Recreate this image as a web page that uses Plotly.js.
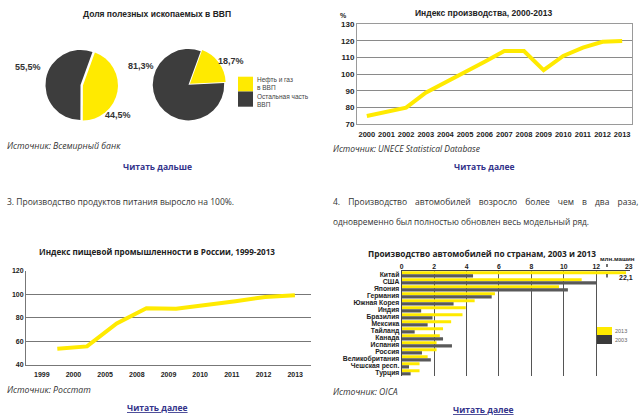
<!DOCTYPE html>
<html><head><meta charset="utf-8">
<script src="https://cdn.plot.ly/plotly-3.0.1.min.js"></script>
<style>html,body{margin:0;padding:0;background:#fff}#chart{width:640px;height:417px}</style>
</head><body><div id="chart"></div>
<script>
// ---------- DATA ----------
const pieLabels = ['Нефть и газ в ВВП', 'Остальная часть ВВП'];
const pie1Values = [44.5, 55.5];
const pie2Values = [18.7, 81.3];

const prodYears = ['2000','2001','2002','2003','2004','2005','2006','2007','2008','2009','2010','2011','2012','2013'];
const prodIndex = [75, 77.5, 80, 89, 95, 101, 107.5, 114, 114, 102.5, 111, 116, 119.5, 120];

const foodLabels = ['1999','2000','2005','2008','2009','2010','2011','2012','2013'];
const foodIndex = [53.5, 55.5, 75, 88, 87.5, 90.5, 94, 97.5, 99];

const countries = ['Китай','США','Япония','Германия','Южная Корея','Индия','Бразилия','Мексика','Тайланд','Канада','Испания','Россия','Великобритания','Чешская респ.','Турция'];
const cars2013 = [22.1, 11.1, 9.7, 5.75, 4.5, 3.95, 3.75, 3.05, 2.55, 2.35, 2.15, 2.15, 1.6, 1.1, 1.1];
const cars2003 = [4.4, 12.1, 10.25, 5.55, 3.2, 1.2, 1.9, 1.6, 0.8, 2.55, 3.1, 1.25, 1.8, 0.45, 0.55];
const carTicks = [0, 2, 4, 6, 8, 10, 12, 23];

// ---------- HELPERS ----------
const W = 640, H = 417;
const X = p => p / W;
const Y = p => 1 - p / H;
const YEL = '#FFEA00', DARK = '#3d3d3d', GRAYBAR = '#595959';
const fmt = v => v.toFixed(1).replace('.', ',') + '%';
// broken axis: 12..23 compressed
const brk = v => v <= 12 ? v : 12 + (v - 12) * 2 / 11;

const AR = 'Liberation Sans', OS = 'Open Sans';
const boldTick = (s) => ({family: AR, size: s, color: '#222', weight: 'bold'});

// food chart geometry (pixels): plot 26..311; line points spaced evenly, labels on their own slots
const foodL = 26, foodR = 311, foodP0 = 57.3, foodStep = 29.7, lab0 = 41.8, labStep = 31.67;
const foodIdx = foodIndex.map((_, i) => i);
const foodRange = [-(foodP0 - foodL) / foodStep, (foodR - foodP0) / foodStep];
const foodTickVals = foodLabels.map((_, k) => (lab0 + labStep * k - foodP0) / foodStep);

const traces = [
  {type: 'pie', values: pie1Values, labels: pieLabels, sort: false, direction: 'clockwise', rotation: 20,
   marker: {colors: [YEL, DARK], line: {width: 0}}, textinfo: 'none', pull: [0.07, 0], hoverinfo: 'none',
   domain: {x: [X(43), X(118)], y: [Y(122.5), Y(47.5)]}},
  {type: 'pie', values: pie2Values, labels: pieLabels, sort: false, direction: 'clockwise', rotation: 20,
   marker: {colors: [YEL, DARK], line: {width: 0}}, textinfo: 'none', pull: [0.05, 0], hoverinfo: 'none',
   domain: {x: [X(151), X(226)], y: [Y(122.2), Y(47.2)]}},
  {type: 'scatter', mode: 'lines', x: prodYears, y: prodIndex, xaxis: 'x', yaxis: 'y',
   line: {color: YEL, width: 4}, hoverinfo: 'none'},
  {type: 'scatter', mode: 'lines', x: foodIdx, y: foodIndex, xaxis: 'x2', yaxis: 'y2',
   line: {color: YEL, width: 4}, hoverinfo: 'none'},
  {type: 'bar', orientation: 'h', y: countries, x: cars2013.map(brk), xaxis: 'x4', yaxis: 'y4',
   marker: {color: YEL}, name: '2013', hoverinfo: 'none'},
  {type: 'bar', orientation: 'h', y: countries, x: cars2003.map(brk), xaxis: 'x4', yaxis: 'y4',
   marker: {color: GRAYBAR}, name: '2003', hoverinfo: 'none'}
];

const ann = [];
function T(text, x, y, opts) {
  const o = Object.assign({size: 9, family: OS, color: '#333', anchor: 'center', weight: 'normal', style: 'normal'}, opts || {});
  ann.push({text: text, x: X(x), y: Y(y), xref: 'paper', yref: 'paper', showarrow: false,
    xanchor: o.anchor, yanchor: 'middle', align: o.anchor === 'center' ? 'center' : 'left',
    font: {family: o.family, size: o.size, color: o.color, weight: o.weight, style: o.style}});
}
const sp = '\u00a0\u00a0\u00a0\u2009';
// top-left
T('Доля полезных ископаемых в ВВП', 157, 14, {family: AR, size: 8.5, weight: 'bold', color: '#222'});
T(fmt(pie1Values[1]), 28, 67, {family: AR, size: 9, weight: 'bold'});
T(fmt(pie1Values[0]), 118, 115, {family: AR, size: 9, weight: 'bold'});
T(fmt(pie2Values[1]), 141, 66, {family: AR, size: 9, weight: 'bold'});
T(fmt(pie2Values[0]), 231, 61, {family: AR, size: 9, weight: 'bold'});
T('Нефть и газ<br>в ВВП', 255, 84, {family: AR, size: 6.5, anchor: 'left', color: '#444'});
T('Остальная часть<br>ВВП', 255, 100, {family: AR, size: 6.5, anchor: 'left', color: '#444'});
T('Источник: Всемирный банк', 5, 146, {size: 8.7, anchor: 'left', style: 'italic'});
T('Читать дальше', 157, 167, {size: 8.5, weight: 'bold', color: '#33338a'});
// top-right
T('Индекс производства, 2000-2013', 483.5, 12.5, {family: AR, size: 8.5, weight: 'bold', color: '#222'});
T('%', 343, 15.5, {family: AR, size: 7, weight: 'bold', color: '#222'});
T('Источник: UNECE Statistical Database', 331, 148, {size: 8.5, anchor: 'left', style: 'italic'});
T('Читать далее', 484, 166, {size: 8.5, weight: 'bold', color: '#33338a'});
// middle text
T('3. Производство продуктов питания выросло на 100%.', 5, 201, {size: 8.5, anchor: 'left'});
T(['4.', 'Производство', 'автомобилей', 'возросло', 'более', 'чем', 'в', 'два', 'раза,'].join(sp), 331, 201, {size: 8.5, anchor: 'left'});
T('одновременно был полностью обновлен весь модельный ряд.', 331, 221.5, {size: 8.3, anchor: 'left'});
// bottom-left
T('Индекс пищевой промышленности в России, 1999-2013', 157, 251.7, {size: 8.1, weight: 'bold', color: '#222'});
T('Источник: Росстат', 5, 389.5, {size: 8.7, anchor: 'left', style: 'italic'});
T('<u>Читать далее</u>', 157, 407.5, {size: 8.5, weight: 'bold', color: '#33338a'});
// bottom-right
T('Производство автомобилей по странам, 2003 и 2013', 482, 253, {size: 8.3, weight: 'bold', color: '#222'});
T('млн.машин', 617, 258.3, {family: AR, size: 6.2, weight: 'bold', color: '#222'});
T(cars2013[0].toFixed(1).replace('.', ','), 626, 277.5, {family: AR, size: 7, weight: 'bold', color: '#222'});
T('2013', 621, 331, {family: AR, size: 5.5, color: '#666'});
T('2003', 621, 340, {family: AR, size: 5.5, color: '#666'});
T('Источник: OICA', 331, 391.5, {size: 8.7, anchor: 'left', style: 'italic'});
T('<u>Читать далее</u>', 483.5, 409, {size: 8.5, weight: 'bold', color: '#33338a'});

const shapes = [
  {type: 'rect', xref: 'paper', yref: 'paper', x0: X(238), x1: X(253), y0: Y(91.5), y1: Y(76.7), fillcolor: YEL, line: {width: 0}},
  {type: 'rect', xref: 'paper', yref: 'paper', x0: X(238), x1: X(253), y0: Y(106.7), y1: Y(91.5), fillcolor: DARK, line: {width: 0}},
  {type: 'rect', xref: 'paper', yref: 'paper', x0: X(597), x1: X(612), y0: Y(335), y1: Y(327), fillcolor: YEL, line: {width: 0}},
  {type: 'rect', xref: 'paper', yref: 'paper', x0: X(597), x1: X(612), y0: Y(344), y1: Y(335), fillcolor: '#3a3a3a', line: {width: 0}},
  {type: 'line', xref: 'paper', yref: 'paper', x0: X(607), x1: X(607), y0: Y(267), y1: Y(264), line: {color: '#222', width: 1.3}},
  {type: 'line', xref: 'paper', yref: 'paper', x0: X(607), x1: X(607), y0: Y(277.5), y1: Y(274), line: {color: '#222', width: 1.3}}
];

const layout = {
  width: W, height: H, margin: {l: 0, r: 0, t: 0, b: 0}, paper_bgcolor: '#fff', plot_bgcolor: 'rgba(0,0,0,0)',
  showlegend: false, annotations: ann, shapes: shapes,
  barmode: 'group', bargap: 0.12, bargroupgap: 0,
  // top-right line chart
  xaxis: {domain: [X(357), X(632)], type: 'category', range: [-0.5, 13.5], anchor: 'y',
    showline: true, mirror: true, linecolor: '#9a9a9a', linewidth: 1, showgrid: false, ticks: '',
    tickfont: boldTick(7.5), fixedrange: true, tickangle: 0, ticklabelstandoff: 3},
  yaxis: {domain: [Y(124.3), Y(24.3)], range: [70, 130], dtick: 10, anchor: 'x',
    showline: true, mirror: true, linecolor: '#9a9a9a', gridcolor: '#8a8a8a', gridwidth: 1, zeroline: false,
    ticks: '', tickfont: boldTick(8), fixedrange: true},
  // bottom-left food index
  xaxis2: {domain: [X(foodL), X(foodR)], range: foodRange, anchor: 'y2',
    tickmode: 'array', tickvals: foodTickVals, ticktext: foodLabels,
    showline: true, linecolor: '#777', showgrid: false, zeroline: false, ticks: '', tickfont: boldTick(7), fixedrange: true, tickangle: 0, ticklabelstandoff: 3},
  yaxis2: {domain: [Y(364.6), Y(270.6)], range: [40, 120], dtick: 20, anchor: 'x2',
    showline: true, linecolor: '#777', gridcolor: '#777', zeroline: false, ticks: '', tickfont: boldTick(7), fixedrange: true},
  // bottom-right cars
  xaxis4: {domain: [X(401.7), X(629.5)], range: [0, 14.05], anchor: 'y4', side: 'top',
    tickmode: 'array', tickvals: carTicks.map(brk), ticktext: carTicks.map(String),
    showline: true, linecolor: '#444', gridcolor: '#555', gridwidth: 1, zeroline: false, ticks: '',
    tickfont: boldTick(6.8), fixedrange: true, ticklabelstandoff: -2},
  yaxis4: {domain: [Y(375.8), Y(270.8)], type: 'category', categoryarray: countries, autorange: 'reversed',
    tickmode: 'array', tickvals: countries, ticktext: countries,
    anchor: 'x4', showline: true, linecolor: '#444', showgrid: false, ticks: '', tickfont: boldTick(6.8), fixedrange: true}
};

Plotly.newPlot('chart', traces, layout, {staticPlot: true, displayModeBar: false});
</script></body></html>
